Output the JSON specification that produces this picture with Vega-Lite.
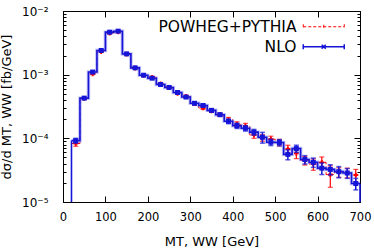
{
  "$schema": "https://vega.github.io/schema/vega-lite/v6.json",
  "width": 297,
  "height": 191,
  "autosize": {"type": "none"},
  "padding": {"left": 63, "top": 11, "right": 14, "bottom": 48},
  "data": {"values": [
    {"s": "NLO", "x0": 20, "x1": 40, "mid": 30, "v": 0.000092, "e": 0.000008},
    {"s": "NLO", "x0": 40, "x1": 60, "mid": 50, "v": 0.000428, "e": 0.000012},
    {"s": "NLO", "x0": 60, "x1": 80, "mid": 70, "v": 0.00110, "e": 0.00003},
    {"s": "NLO", "x0": 80, "x1": 100, "mid": 90, "v": 0.00240, "e": 0.00006},
    {"s": "NLO", "x0": 100, "x1": 120, "mid": 110, "v": 0.00465, "e": 0.00012},
    {"s": "NLO", "x0": 120, "x1": 140, "mid": 130, "v": 0.00482, "e": 0.00012},
    {"s": "NLO", "x0": 140, "x1": 160, "mid": 150, "v": 0.00212, "e": 0.00005},
    {"s": "NLO", "x0": 160, "x1": 180, "mid": 170, "v": 0.00128, "e": 0.00003},
    {"s": "NLO", "x0": 180, "x1": 200, "mid": 190, "v": 0.00098, "e": 0.000025},
    {"s": "NLO", "x0": 200, "x1": 220, "mid": 210, "v": 0.00088, "e": 0.000025},
    {"s": "NLO", "x0": 220, "x1": 240, "mid": 230, "v": 0.00070, "e": 0.00002},
    {"s": "NLO", "x0": 240, "x1": 260, "mid": 250, "v": 0.00063, "e": 0.00002},
    {"s": "NLO", "x0": 260, "x1": 280, "mid": 270, "v": 0.000525, "e": 0.000018},
    {"s": "NLO", "x0": 280, "x1": 300, "mid": 290, "v": 0.000445, "e": 0.000016},
    {"s": "NLO", "x0": 300, "x1": 320, "mid": 310, "v": 0.000355, "e": 0.000015},
    {"s": "NLO", "x0": 320, "x1": 340, "mid": 330, "v": 0.000328, "e": 0.000015},
    {"s": "NLO", "x0": 340, "x1": 360, "mid": 350, "v": 0.000275, "e": 0.000014},
    {"s": "NLO", "x0": 360, "x1": 380, "mid": 370, "v": 0.000235, "e": 0.000013},
    {"s": "NLO", "x0": 380, "x1": 400, "mid": 390, "v": 0.000185, "e": 0.000015},
    {"s": "NLO", "x0": 400, "x1": 420, "mid": 410, "v": 0.000158, "e": 0.000015},
    {"s": "NLO", "x0": 420, "x1": 440, "mid": 430, "v": 0.000144, "e": 0.000014},
    {"s": "NLO", "x0": 440, "x1": 460, "mid": 450, "v": 0.000125, "e": 0.000013},
    {"s": "NLO", "x0": 460, "x1": 480, "mid": 470, "v": 0.000104, "e": 0.00002},
    {"s": "NLO", "x0": 480, "x1": 500, "mid": 490, "v": 0.000087, "e": 0.00001},
    {"s": "NLO", "x0": 500, "x1": 520, "mid": 510, "v": 0.000086, "e": 0.00001},
    {"s": "NLO", "x0": 520, "x1": 540, "mid": 530, "v": 0.000056, "e": 0.00001},
    {"s": "NLO", "x0": 540, "x1": 560, "mid": 550, "v": 0.000069, "e": 0.000009},
    {"s": "NLO", "x0": 560, "x1": 580, "mid": 570, "v": 0.0000465, "e": 0.000007},
    {"s": "NLO", "x0": 580, "x1": 600, "mid": 590, "v": 0.000042, "e": 0.000007},
    {"s": "NLO", "x0": 600, "x1": 620, "mid": 610, "v": 0.000034, "e": 0.000007},
    {"s": "NLO", "x0": 620, "x1": 640, "mid": 630, "v": 0.0000325, "e": 0.000006},
    {"s": "NLO", "x0": 640, "x1": 660, "mid": 650, "v": 0.000030, "e": 0.000006},
    {"s": "NLO", "x0": 660, "x1": 680, "mid": 670, "v": 0.0000285, "e": 0.000005},
    {"s": "NLO", "x0": 680, "x1": 700, "mid": 690, "v": 0.0000195, "e": 0.000004},
    {"s": "POWHEG+PYTHIA", "x0": 20, "x1": 40, "mid": 30, "v": 0.000083, "e": 0.000008},
    {"s": "POWHEG+PYTHIA", "x0": 40, "x1": 60, "mid": 50, "v": 0.000422, "e": 0.000012},
    {"s": "POWHEG+PYTHIA", "x0": 60, "x1": 80, "mid": 70, "v": 0.00103, "e": 0.00003},
    {"s": "POWHEG+PYTHIA", "x0": 80, "x1": 100, "mid": 90, "v": 0.00230, "e": 0.00006},
    {"s": "POWHEG+PYTHIA", "x0": 100, "x1": 120, "mid": 110, "v": 0.00450, "e": 0.00012},
    {"s": "POWHEG+PYTHIA", "x0": 120, "x1": 140, "mid": 130, "v": 0.00470, "e": 0.00012},
    {"s": "POWHEG+PYTHIA", "x0": 140, "x1": 160, "mid": 150, "v": 0.00210, "e": 0.00005},
    {"s": "POWHEG+PYTHIA", "x0": 160, "x1": 180, "mid": 170, "v": 0.00127, "e": 0.00003},
    {"s": "POWHEG+PYTHIA", "x0": 180, "x1": 200, "mid": 190, "v": 0.00097, "e": 0.00003},
    {"s": "POWHEG+PYTHIA", "x0": 200, "x1": 220, "mid": 210, "v": 0.00091, "e": 0.00003},
    {"s": "POWHEG+PYTHIA", "x0": 220, "x1": 240, "mid": 230, "v": 0.00072, "e": 0.000025},
    {"s": "POWHEG+PYTHIA", "x0": 240, "x1": 260, "mid": 250, "v": 0.00063, "e": 0.00002},
    {"s": "POWHEG+PYTHIA", "x0": 260, "x1": 280, "mid": 270, "v": 0.00051, "e": 0.00002},
    {"s": "POWHEG+PYTHIA", "x0": 280, "x1": 300, "mid": 290, "v": 0.000455, "e": 0.00002},
    {"s": "POWHEG+PYTHIA", "x0": 300, "x1": 320, "mid": 310, "v": 0.00035, "e": 0.000018},
    {"s": "POWHEG+PYTHIA", "x0": 320, "x1": 340, "mid": 330, "v": 0.00030, "e": 0.000016},
    {"s": "POWHEG+PYTHIA", "x0": 340, "x1": 360, "mid": 350, "v": 0.00027, "e": 0.000015},
    {"s": "POWHEG+PYTHIA", "x0": 360, "x1": 380, "mid": 370, "v": 0.000235, "e": 0.000014},
    {"s": "POWHEG+PYTHIA", "x0": 380, "x1": 400, "mid": 390, "v": 0.000197, "e": 0.000016},
    {"s": "POWHEG+PYTHIA", "x0": 400, "x1": 420, "mid": 410, "v": 0.000166, "e": 0.000016},
    {"s": "POWHEG+PYTHIA", "x0": 420, "x1": 440, "mid": 430, "v": 0.000156, "e": 0.000016},
    {"s": "POWHEG+PYTHIA", "x0": 440, "x1": 460, "mid": 450, "v": 0.000113, "e": 0.000013},
    {"s": "POWHEG+PYTHIA", "x0": 460, "x1": 480, "mid": 470, "v": 0.000102, "e": 0.000012},
    {"s": "POWHEG+PYTHIA", "x0": 480, "x1": 500, "mid": 490, "v": 0.000097, "e": 0.000011},
    {"s": "POWHEG+PYTHIA", "x0": 500, "x1": 520, "mid": 510, "v": 0.000086, "e": 0.00001},
    {"s": "POWHEG+PYTHIA", "x0": 520, "x1": 540, "mid": 530, "v": 0.000068, "e": 0.00001},
    {"s": "POWHEG+PYTHIA", "x0": 540, "x1": 560, "mid": 550, "v": 0.000058, "e": 0.00001},
    {"s": "POWHEG+PYTHIA", "x0": 560, "x1": 580, "mid": 570, "v": 0.000045, "e": 0.000007},
    {"s": "POWHEG+PYTHIA", "x0": 580, "x1": 600, "mid": 590, "v": 0.0000395, "e": 0.000008},
    {"s": "POWHEG+PYTHIA", "x0": 600, "x1": 620, "mid": 610, "v": 0.000042, "e": 0.000009},
    {"s": "POWHEG+PYTHIA", "x0": 620, "x1": 640, "mid": 630, "v": 0.000027, "e": 0.00001},
    {"s": "POWHEG+PYTHIA", "x0": 640, "x1": 660, "mid": 650, "v": 0.0000295, "e": 0.000005},
    {"s": "POWHEG+PYTHIA", "x0": 660, "x1": 680, "mid": 670, "v": 0.000029, "e": 0.000005},
    {"s": "POWHEG+PYTHIA", "x0": 680, "x1": 700, "mid": 690, "v": 0.0000265, "e": 0.000006}
  ]},
  "resolve": {"axis": {"x": "independent", "y": "independent"}},
  "layer": [
    {
      "transform": [{"filter": "datum.s == 'POWHEG+PYTHIA'"}, {"fold": ["x0", "x1"], "as": ["k", "xv"]}],
      "mark": {"type": "line", "strokeWidth": 1, "strokeDash": [4, 2]},
      "encoding": {
        "x": {"field": "xv", "type": "quantitative",
          "scale": {"domain": [0, 700], "nice": false, "zero": false},
          "axis": {"orient": "bottom", "values": [0, 100, 200, 300, 400, 500, 600, 700], "ticks": false, "domain": false, "labelPadding": 9, "labelFlush": false, "labelOverlap": false, "title": "MT, WW [GeV]", "titlePadding": 13, "titleFontSize": 13}},
        "y": {"field": "v", "type": "quantitative",
          "scale": {"type": "log", "domain": [0.00001, 0.01], "nice": false},
          "axis": {"orient": "left", "values": [0.00001, 0.0001, 0.001, 0.01], "ticks": false, "domain": false, "labelPadding": 15, "labelOverlap": false, "labelFontSize": 12,
            "labelExpr": "'10' + (datum.value >= 0.005 ? '⁻²' : datum.value >= 0.0005 ? '⁻³' : datum.value >= 0.00005 ? '⁻⁴' : '⁻⁵')",
            "title": "dσ/d MT, WW [fb/GeV]", "titlePadding": 8, "titleFontSize": 13}},
        "color": {"field": "s", "type": "nominal",
          "scale": {"domain": ["POWHEG+PYTHIA", "NLO"], "range": ["#ff0000", "#1515d8"]},
          "legend": {"orient": "none", "legendX": 253, "legendY": 8, "title": null, "padding": 0,
            "labelFont": "DejaVu Sans", "labelFontSize": 15.5, "labelColor": "#000", "labelAlign": "right", "labelOffset": -35,
            "symbolSize": 100, "rowPadding": 3,
            "encode": {
              "labels": {"update": {"fontSize": {"value": 15.5}, "font": {"value": "DejaVu Sans"}}},
              "symbols": {"update": {
              "shape": {"signal": "datum.value == 'NLO' ? 'M-4.1,0H4.1M-4.1,-0.5V0.5M4.1,-0.5V0.5M-0.4,-0.4L0.4,0.4M-0.4,0.4L0.4,-0.4' : 'M-4.1,0H4.1M-4.1,-0.5V0.5M4.1,-0.5V0.5M0,-0.4V0.4'"},
              "stroke": {"signal": "datum.value == 'NLO' ? '#1515d8' : '#ff0000'"},
              "strokeDash": {"signal": "datum.value == 'NLO' ? [] : [3, 2]"},
              "strokeWidth": {"signal": "datum.value == 'NLO' ? 1.5 : 1"},
              "fill": {"value": "transparent"},
              "opacity": {"value": 1}
            }}}}},
        "order": [{"field": "x0", "type": "quantitative"}, {"field": "k", "type": "nominal"}]
      }
    },
    {
      "transform": [{"filter": "datum.s == 'NLO'"}, {"fold": ["x0", "x1"], "as": ["k", "xv"]}],
      "mark": {"type": "line", "strokeWidth": 3.5, "color": "#8c8cf2", "opacity": 0.55},
      "encoding": {
        "x": {"field": "xv", "type": "quantitative",
          "axis": {"orient": "bottom", "values": [0, 100, 200, 300, 400, 500, 600, 700], "labels": false, "domain": false, "tickSize": -6, "title": null}},
        "y": {"field": "v", "type": "quantitative",
          "axis": {"orient": "left", "values": [0.00001, 0.0001, 0.001, 0.01], "labels": false, "domain": false, "tickSize": -6, "title": null}},
        "order": [{"field": "x0", "type": "quantitative"}, {"field": "k", "type": "nominal"}]
      }
    },
    {
      "transform": [{"filter": "datum.s == 'NLO'"}, {"fold": ["x0", "x1"], "as": ["k", "xv"]}],
      "mark": {"type": "line", "strokeWidth": 1.6},
      "encoding": {
        "x": {"field": "xv", "type": "quantitative",
          "axis": {"orient": "top", "values": [0, 100, 200, 300, 400, 500, 600, 700], "labels": false, "domain": false, "tickSize": -6, "title": null}},
        "y": {"field": "v", "type": "quantitative",
          "axis": {"orient": "right", "values": [0.00001, 0.0001, 0.001, 0.01], "labels": false, "domain": false, "tickSize": -6, "title": null}},
        "color": {"field": "s", "type": "nominal"},
        "order": [{"field": "x0", "type": "quantitative"}, {"field": "k", "type": "nominal"}]
      }
    },
    {
      "transform": [{"filter": "datum.s == 'NLO' && datum.x0 == 20"}],
      "mark": {"type": "rule", "strokeWidth": 1.6, "color": "#1515d8"},
      "encoding": {
        "x": {"field": "x0", "type": "quantitative", "axis": null},
        "y": {"field": "v", "type": "quantitative",
          "axis": {"orient": "left", "values": [0.00002, 0.00003, 0.00004, 0.00005, 0.00006, 0.00007, 0.00008, 0.00009, 0.0002, 0.0003, 0.0004, 0.0005, 0.0006, 0.0007, 0.0008, 0.0009, 0.002, 0.003, 0.004, 0.005, 0.006, 0.007, 0.008, 0.009], "labels": false, "domain": false, "tickSize": -3, "title": null}},
        "y2": {"datum": 0.00001}
      }
    },
    {
      "transform": [{"filter": "datum.s == 'NLO' && datum.x1 == 700"}],
      "mark": {"type": "rule", "strokeWidth": 1.6, "color": "#1515d8"},
      "encoding": {
        "x": {"field": "x1", "type": "quantitative", "axis": null},
        "y": {"field": "v", "type": "quantitative",
          "axis": {"orient": "right", "values": [0.00002, 0.00003, 0.00004, 0.00005, 0.00006, 0.00007, 0.00008, 0.00009, 0.0002, 0.0003, 0.0004, 0.0005, 0.0006, 0.0007, 0.0008, 0.0009, 0.002, 0.003, 0.004, 0.005, 0.006, 0.007, 0.008, 0.009], "labels": false, "domain": false, "tickSize": -3, "title": null}},
        "y2": {"datum": 0.00001}
      }
    },
    {
      "transform": [{"filter": "datum.s == 'POWHEG+PYTHIA'"}],
      "mark": {"type": "errorbar", "color": "#ff0000", "thickness": 1.2, "ticks": {"size": 5, "thickness": 1.2}},
      "encoding": {
        "x": {"field": "mid", "type": "quantitative", "axis": null},
        "y": {"field": "v", "type": "quantitative", "axis": null},
        "yError": {"field": "e"}
      }
    },
    {
      "transform": [{"filter": "datum.s == 'POWHEG+PYTHIA'"}],
      "mark": {"type": "point", "shape": "cross", "filled": true, "size": 22, "color": "#ff0000", "opacity": 1},
      "encoding": {
        "x": {"field": "mid", "type": "quantitative", "axis": null},
        "y": {"field": "v", "type": "quantitative", "axis": null}
      }
    },
    {
      "transform": [{"filter": "datum.s == 'NLO'"}],
      "mark": {"type": "errorbar", "color": "#1515d8", "thickness": 1.5, "ticks": {"size": 5, "thickness": 1.5}},
      "encoding": {
        "x": {"field": "mid", "type": "quantitative", "axis": null},
        "y": {"field": "v", "type": "quantitative", "axis": null},
        "yError": {"field": "e"}
      }
    },
    {
      "transform": [{"filter": "datum.s == 'NLO'"}],
      "mark": {"type": "point", "shape": "square", "filled": true, "size": 25, "color": "#1515d8", "opacity": 1},
      "encoding": {
        "x": {"field": "mid", "type": "quantitative", "axis": null},
        "y": {"field": "v", "type": "quantitative", "axis": null}
      }
    }
  ],
  "config": {
    "font": "DejaVu Sans",
    "view": {"stroke": "#000", "strokeWidth": 1},
    "legend": {"labelFont": "DejaVu Sans", "labelFontSize": 15.5, "labelColor": "#000", "labelLimit": 300},
    "axis": {"grid": false, "labelFont": "DejaVu Sans", "labelFontSize": 11.5, "labelColor": "#000",
      "titleFont": "DejaVu Sans", "titleFontSize": 13.5, "titleFontWeight": "normal", "titleColor": "#000",
      "tickColor": "#000", "tickWidth": 1}
  }
}
